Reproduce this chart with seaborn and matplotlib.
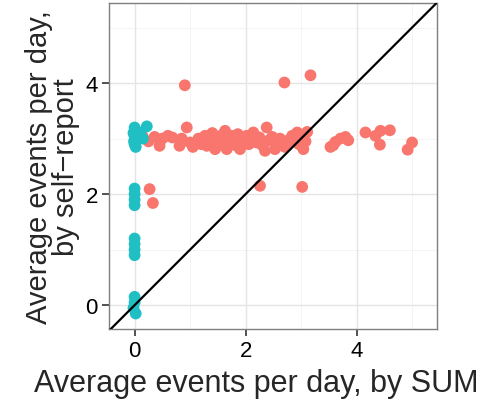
import numpy as np
import pandas as pd
import matplotlib
matplotlib.use("Agg")
import matplotlib.pyplot as plt
import seaborn as sns

# red group: reported without matching SUM events
red_x = [0.14, 0.25, 0.36, 0.45, 0.50, 0.60, 0.68, 0.81, 0.85, 0.94, 1.00, 1.05,
         1.15, 1.20, 1.27, 1.30, 1.35, 1.40, 1.45, 1.50, 1.55, 1.58, 1.63, 1.66,
         1.70, 1.74, 1.78, 1.82, 1.86, 1.90, 1.95, 2.02, 2.06, 2.10, 2.14, 2.20,
         2.25, 2.30, 2.35, 2.38, 2.42, 2.48, 2.53, 2.58, 2.62, 2.66, 2.71, 2.75,
         2.80, 2.84, 2.88, 2.93, 2.96, 3.00, 3.04, 3.08, 3.11,
         3.53, 3.62, 3.71, 3.80, 3.85, 3.58, 4.16, 4.34, 4.43, 4.60, 4.42, 4.92, 5.00,
         0.905, 2.70, 3.17, 2.26, 3.02, 0.27, 0.33]
red_y = [3.05, 2.95, 3.03, 2.87, 3.00, 3.05, 3.02, 2.87, 3.00, 3.20, 2.93, 2.85,
         3.00, 2.90, 3.05, 2.87, 2.95, 3.10, 2.81, 2.95, 3.05, 2.88, 3.14, 2.81,
         2.95, 3.05, 2.99, 2.88, 3.08, 2.81, 2.95, 3.05, 2.90, 2.98, 3.11, 2.93,
         3.02, 2.88, 2.78, 3.20, 2.97, 3.03, 2.81, 2.92, 3.00, 2.95, 2.85, 2.92,
         2.99, 3.05, 2.95, 3.11, 2.90, 3.00, 2.81, 2.95, 3.12,
         2.85, 2.94, 3.00, 3.03, 2.97, 2.88, 3.11, 3.05, 3.14, 3.15, 2.89, 2.80, 2.93,
         3.96, 4.01, 4.14, 2.15, 2.13, 2.09, 1.84]

# teal group: zero SUM events
teal_x = [0.00, 0.02, -0.02, 0.00, 0.03, -0.01, 0.00, 0.02, 0.00, 0.04, 0.22, 0.15, 0.10,
          0.00, 0.00, 0.00, 0.00, 0.00, 0.00, 0.00, 0.00, 0.00, 0.00, -0.02, 0.02]
teal_y = [3.20, 3.15, 3.10, 3.05, 3.00, 2.95, 2.90, 2.85, 3.12, 3.08, 3.22, 3.00, 3.10,
          2.10, 2.00, 1.90, 1.80, 1.20, 1.10, 1.00, 0.90, 0.15, 0.05, -0.05, -0.15]

df = pd.DataFrame({
    "sum": red_x + teal_x,
    "self": red_y + teal_y,
    "group": ["red"] * len(red_x) + ["teal"] * len(teal_x),
})

sns.set_theme(style="white")
plt.rcParams["font.family"] = ["Liberation Sans", "DejaVu Sans"]

fig = plt.figure(figsize=(4.98, 4.10), dpi=100)
ax = fig.add_axes([0.219, 0.195, 0.6586, 0.795])

ax.set_xlim(-0.46, 5.45)
ax.set_ylim(-0.43, 5.44)

# theme_bw style grid
for v in [1, 3, 5]:
    ax.axvline(v, color="#f2f2f2", lw=0.6, zorder=0)
    ax.axhline(v, color="#f2f2f2", lw=0.6, zorder=0)
for v in [0, 2, 4]:
    ax.axvline(v, color="#e5e5e5", lw=1.0, zorder=0)
    ax.axhline(v, color="#e5e5e5", lw=1.0, zorder=0)

sns.scatterplot(data=df, x="sum", y="self", hue="group",
                palette={"red": "#F8766D", "teal": "#1FBFC4"},
                s=72, linewidth=0, legend=False, ax=ax, zorder=2)

ax.plot([-1, 6], [-1, 6], color="black", lw=1.6, zorder=3)

ax.set_xticks([0, 2, 4])
ax.set_yticks([0, 2, 4])
ax.tick_params(axis="both", direction="out", length=5, width=1.2,
               color="#333333", labelsize=16, labelcolor="black",
               bottom=True, left=True, pad=3)
for sp in ax.spines.values():
    sp.set_color("#7f7f7f")
    sp.set_linewidth(1.0)

ax.set_xlabel("Average events per day, by SUM", fontsize=22, labelpad=2)
ax.xaxis.set_label_coords(0.45, -0.12)
ax.set_ylabel("Average events per day,\nby self\u2212report", fontsize=21,
              labelpad=4, linespacing=0.95)

fig.savefig("out.png", dpi=100)
